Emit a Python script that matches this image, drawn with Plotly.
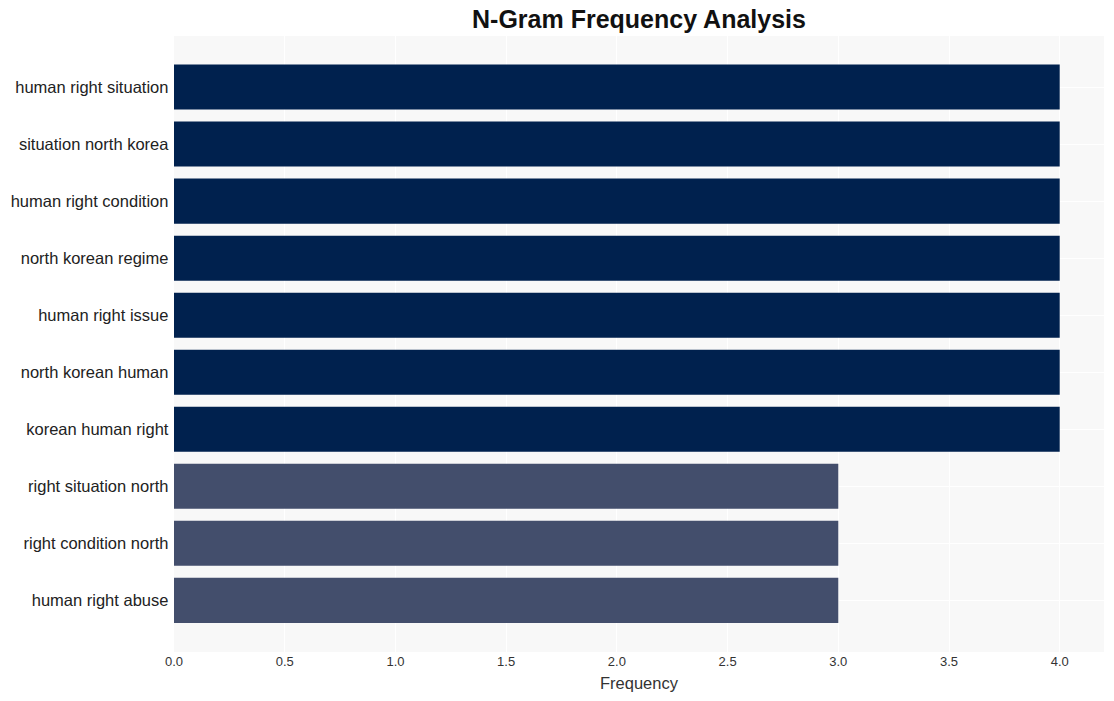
import plotly.graph_objects as go

categories = [
    "human right situation",
    "situation north korea",
    "human right condition",
    "north korean regime",
    "human right issue",
    "north korean human",
    "korean human right",
    "right situation north",
    "right condition north",
    "human right abuse",
]
frequencies = [4, 4, 4, 4, 4, 4, 4, 3, 3, 3]
bar_colors = ["#00214e" if v == 4 else "#434e6c" for v in frequencies]

fig = go.Figure(
    go.Bar(
        x=frequencies,
        y=categories,
        orientation="h",
        marker=dict(color=bar_colors, line=dict(width=0)),
        width=0.79,
    )
)

fig.update_layout(
    width=1114,
    height=701,
    margin=dict(l=174, r=10, t=36, b=49),
    paper_bgcolor="white",
    plot_bgcolor="#f8f8f8",
    font=dict(family="Arial, Liberation Sans, sans-serif", color="#222"),
    title=dict(
        text="<b>N-Gram Frequency Analysis</b>",
        x=0.5,
        xref="paper",
        xanchor="center",
        y=0.972,
        yanchor="middle",
        font=dict(size=25, color="#111"),
    ),
    showlegend=False,
    bargap=0.2,
)

fig.update_xaxes(
    range=[0, 4.2],
    dtick=0.5,
    tickformat=".1f",
    showgrid=True,
    gridcolor="white",
    gridwidth=1,
    zeroline=False,
    tickfont=dict(size=13, color="#333"),
    title=dict(text="Frequency", font=dict(size=16.5, color="#333"), standoff=9),
)
fig.update_yaxes(
    categoryorder="array",
    categoryarray=categories,
    range=[9.905, -0.895],
    showgrid=True,
    gridcolor="white",
    gridwidth=1,
    zeroline=False,
    tickfont=dict(size=16.5, color="#222"),
    ticksuffix=" ",
)

fig.write_html("out.html")
